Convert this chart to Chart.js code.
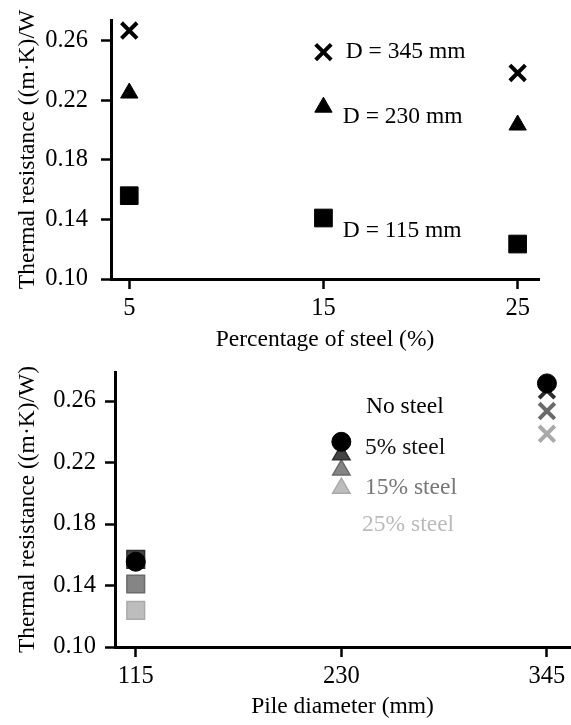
<!DOCTYPE html>
<html>
<head>
<meta charset="utf-8">
<script src="https://cdn.jsdelivr.net/npm/chart.js@4.4.0/dist/chart.umd.min.js"></script>
<style>
  body { margin: 0; background: #fff; }
  .panel { position: absolute; left: 0; }
</style>
</head>
<body>
<div class="panel" style="top:0"><canvas id="steel-chart" width="571" height="360"></canvas></div>
<div class="panel" style="top:360px"><canvas id="diameter-chart" width="571" height="365"></canvas></div>
<script>
// Dados
const steelPct = [5, 15, 25];
const dia345 = [0.267, 0.2525, 0.2385];
const dia230 = [0.225, 0.2155, 0.2035];
const dia115 = [0.156, 0.141, 0.1235];

const pileDia = [115, 230, 345];
const noSteel = [0.1555, 0.2335, 0.2715];
const steel5 = [0.157, 0.225, 0.267];
const steel15 = [0.141, 0.2152, 0.2535];
const steel25 = [0.1238, 0.2033, 0.2387];

const resistanceTicks = [0.10, 0.14, 0.18, 0.22, 0.26];
const topNotes = ['D = 345 mm', 'D = 230 mm', 'D = 115 mm'];
const bottomNotes = ['No steel', '5% steel', '15% steel', '25% steel'];

const FAMILY = "'Liberation Serif', 'Times New Roman', serif";
Chart.defaults.font.family = FAMILY;
Chart.defaults.font.size = 23.5;
Chart.defaults.color = '#000';

function toPoints(xs, ys) {
    return xs.map((x, i) => ({ x: x, y: ys[i] }));
}

// Textos soltos dentro do grafico, posicionados pelas escalas
const notesPlugin = {
    id: 'notes',
    afterDatasetsDraw(chart, args, opts) {
        const ctx = chart.ctx;
        ctx.save();
        ctx.font = '23.5px ' + FAMILY;
        ctx.textBaseline = 'middle';
        ctx.textAlign = 'left';
        opts.items.forEach(item => {
            ctx.fillStyle = item.color || '#000';
            ctx.fillText(item.text, chart.scales.x.getPixelForValue(item.x), chart.scales.y.getPixelForValue(item.y));
        });
        ctx.restore();
    }
};

function axis(opts) {
    return {
        type: 'linear',
        min: opts.min,
        max: opts.max,
        border: { display: true, color: '#000', width: 3 },
        grid: { drawOnChartArea: false, drawTicks: true, tickLength: 10, tickWidth: 2.5, color: '#000' },
        ticks: { padding: opts.padding, color: '#000', font: { family: FAMILY, size: 24.5 }, callback: opts.format },
        title: { display: true, text: opts.title, color: '#000', font: { family: FAMILY, size: 23.5 }, padding: opts.titlePadding },
        afterBuildTicks: scale => { scale.ticks = opts.values.map(v => ({ value: v })); },
        afterFit: scale => {
            // tamanho fixo, sem folga extra para os rotulos das pontas
            if (opts.width) scale.width = opts.width;
            if (opts.height) scale.height = opts.height;
            scale.paddingTop = 0;
            scale.paddingBottom = 0;
            scale.paddingLeft = 0;
            scale.paddingRight = 0;
        }
    };
}

function makeOptions(cfg) {
    return {
        responsive: false,
        animation: false,
        // sem autoPadding: a area do grafico fica onde a figura a tem
        layout: { autoPadding: false, padding: cfg.padding },
        plugins: {
            legend: { display: false },
            tooltip: { enabled: false },
            notes: { items: cfg.notes }
        },
        scales: { x: cfg.x, y: cfg.y }
    };
}

// Grafico 1: percentagem de aco
new Chart(document.getElementById('steel-chart'), {
    type: 'scatter',
    plugins: [notesPlugin],
    data: {
        datasets: [
            { label: 'D = 345 mm', data: toPoints(steelPct, dia345), clip: false, pointStyle: 'crossRot', pointRadius: 11, borderWidth: 4, borderColor: '#000', backgroundColor: '#000' },
            { label: 'D = 230 mm', data: toPoints(steelPct, dia230), clip: false, pointStyle: 'triangle', pointRadius: 10, borderWidth: 1, borderColor: '#000', backgroundColor: '#000' },
            { label: 'D = 115 mm', data: toPoints(steelPct, dia115), clip: false, pointStyle: 'rect', pointRadius: 12.5, borderWidth: 1, borderColor: '#000', backgroundColor: '#000' }
        ]
    },
    options: makeOptions({
        padding: { top: 20, right: 32, left: 0, bottom: 0 },
        notes: [
            { text: topNotes[0], x: 16.15, y: 0.2524 },
            { text: topNotes[1], x: 16.0, y: 0.2087 },
            { text: topNotes[2], x: 16.0, y: 0.1327 }
        ],
        x: axis({ min: 4.06, max: 26.1, values: steelPct, padding: 5, height: 81, title: 'Percentage of steel (%)', titlePadding: { bottom: 6 } }),
        y: axis({ min: 0.10, max: 0.2741, values: resistanceTicks, padding: 13, width: 111, format: v => v.toFixed(2), title: 'Thermal resistance ((m\u00b7K)/W', titlePadding: { top: 14 } })
    })
});

// Grafico 2: diametro da estaca
new Chart(document.getElementById('diameter-chart'), {
    type: 'scatter',
    plugins: [notesPlugin],
    data: {
        datasets: [
            { label: 'No steel', data: toPoints(pileDia, noSteel), clip: false, pointStyle: 'circle', pointRadius: 9.5, borderWidth: 1, borderColor: '#000', backgroundColor: '#000' },
            { label: '5% steel', data: toPoints(pileDia, steel5), clip: false, pointStyle: ['rect', 'triangle', 'crossRot'], pointRadius: [12.5, 10, 11], borderWidth: [1.5, 1.5, 4], borderColor: '#2e2e2e', backgroundColor: '#444' },
            { label: '15% steel', data: toPoints(pileDia, steel15), clip: false, pointStyle: ['rect', 'triangle', 'crossRot'], pointRadius: [12.5, 10, 11], borderWidth: [1.5, 1.5, 4], borderColor: '#6a6a6a', backgroundColor: '#858585' },
            { label: '25% steel', data: toPoints(pileDia, steel25), clip: false, pointStyle: ['rect', 'triangle', 'crossRot'], pointRadius: [12.5, 10, 11], borderWidth: [1.5, 1.5, 4], borderColor: '#a9a9a9', backgroundColor: '#bdbdbd' }
        ]
    },
    options: makeOptions({
        padding: { top: 12, right: 1, left: 0, bottom: 0 },
        notes: [
            { text: bottomNotes[0], x: 243.8, y: 0.2563, color: '#000' },
            { text: bottomNotes[1], x: 243.2, y: 0.2294, color: '#111' },
            { text: bottomNotes[2], x: 243.2, y: 0.2034, color: '#777' },
            { text: bottomNotes[3], x: 241.6, y: 0.1793, color: '#bbb' }
        ],
        x: axis({ min: 103.4, max: 357.9, values: pileDia, padding: 5, height: 78, title: 'Pile diameter (mm)', titlePadding: { bottom: 4 } }),
        y: axis({ min: 0.10, max: 0.2789, values: resistanceTicks, padding: 9, width: 115, format: v => v.toFixed(2), title: 'Thermal resistance ((m\u00b7K)/W)', titlePadding: { top: 14 } })
    })
});
</script>
</body>
</html>
